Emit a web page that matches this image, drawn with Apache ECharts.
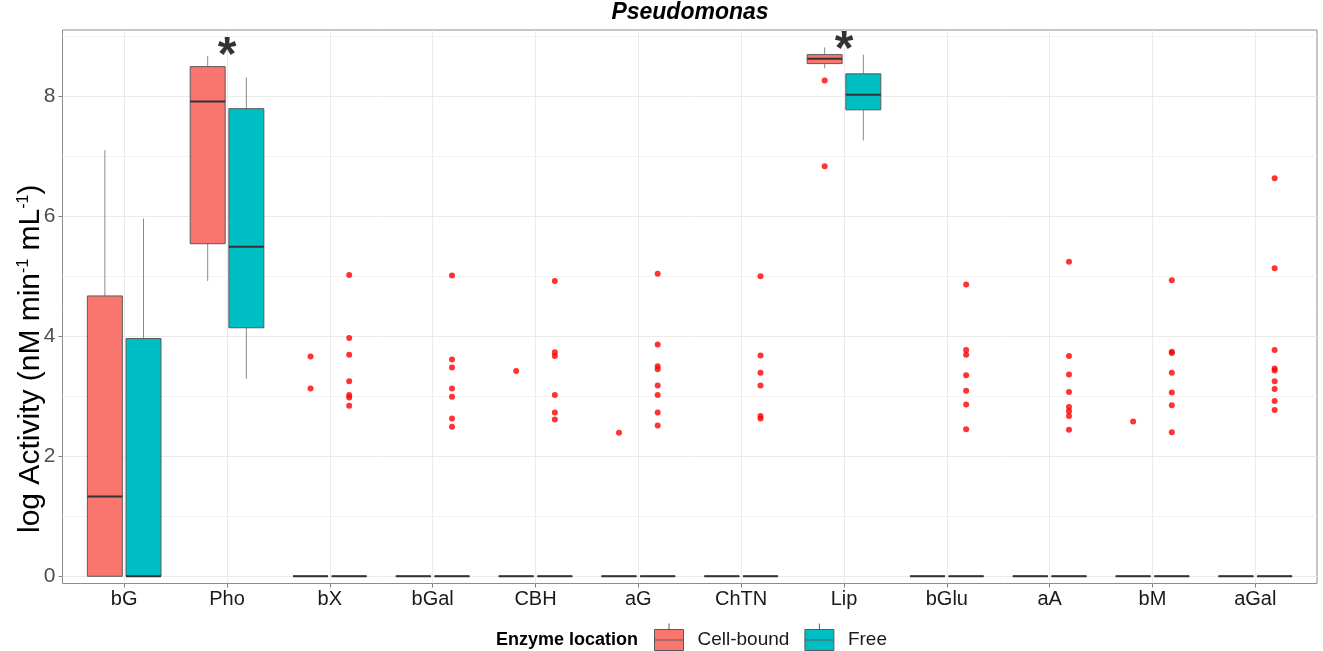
<!DOCTYPE html>
<html>
<head>
<meta charset="utf-8">
<script src="https://cdn.jsdelivr.net/npm/echarts@6/dist/echarts.min.js"></script>
<style>
  html, body { margin: 0; padding: 0; background: #fff; }
  #main { width: 1323px; height: 651px; }
</style>
</head>
<body>
<div id="main"></div>
<script>
const categories = ['bG', 'Pho', 'bX', 'bGal', 'CBH', 'aG', 'ChTN', 'Lip', 'bGlu', 'aA', 'bM', 'aGal'];
const yTicks = [0, 2, 4, 6, 8];
const yMinorTicks = [1, 3, 5, 7, 9];

// [lower whisker, Q1, median, Q3, upper whisker]
const cellBoundStats = [
  [0, 0, 1.33, 4.67, 7.1],
  [4.92, 5.54, 7.91, 8.49, 8.67],
  [0, 0, 0, 0, 0],
  [0, 0, 0, 0, 0],
  [0, 0, 0, 0, 0],
  [0, 0, 0, 0, 0],
  [0, 0, 0, 0, 0],
  [8.46, 8.54, 8.62, 8.69, 8.81],
  [0, 0, 0, 0, 0],
  [0, 0, 0, 0, 0],
  [0, 0, 0, 0, 0],
  [0, 0, 0, 0, 0]
];
const freeStats = [
  [0, 0, 0, 3.96, 5.96],
  [3.29, 4.14, 5.49, 7.79, 8.31],
  [0, 0, 0, 0, 0],
  [0, 0, 0, 0, 0],
  [0, 0, 0, 0, 0],
  [0, 0, 0, 0, 0],
  [0, 0, 0, 0, 0],
  [7.26, 7.77, 8.02, 8.37, 8.69],
  [0, 0, 0, 0, 0],
  [0, 0, 0, 0, 0],
  [0, 0, 0, 0, 0],
  [0, 0, 0, 0, 0]
];

const cellBoundOutliers = [
  ['bX', 3.66], ['bX', 3.13],
  ['CBH', 3.42],
  ['aG', 2.39],
  ['Lip', 8.26], ['Lip', 6.83],
  ['bM', 2.58]
];
const freeOutliers = [
  ['bX', 5.02], ['bX', 3.97], ['bX', 3.69], ['bX', 3.25], ['bX', 3.02], ['bX', 2.98], ['bX', 2.84],
  ['bGal', 5.01], ['bGal', 3.61], ['bGal', 3.48], ['bGal', 3.13], ['bGal', 2.99], ['bGal', 2.63], ['bGal', 2.49],
  ['CBH', 4.92], ['CBH', 3.73], ['CBH', 3.67], ['CBH', 3.02], ['CBH', 2.73], ['CBH', 2.61],
  ['aG', 5.04], ['aG', 3.86], ['aG', 3.5], ['aG', 3.45], ['aG', 3.18], ['aG', 3.02], ['aG', 2.73], ['aG', 2.51],
  ['ChTN', 5.0], ['ChTN', 3.68], ['ChTN', 3.39], ['ChTN', 3.18], ['ChTN', 2.67], ['ChTN', 2.63],
  ['bGlu', 4.86], ['bGlu', 3.77], ['bGlu', 3.69], ['bGlu', 3.35], ['bGlu', 3.09], ['bGlu', 2.86], ['bGlu', 2.45],
  ['aA', 5.24], ['aA', 3.67], ['aA', 3.36], ['aA', 3.07], ['aA', 2.82], ['aA', 2.75], ['aA', 2.67], ['aA', 2.44],
  ['bM', 4.93], ['bM', 3.74], ['bM', 3.72], ['bM', 3.39], ['bM', 3.06], ['bM', 2.85], ['bM', 2.4],
  ['aGal', 6.63], ['aGal', 5.13], ['aGal', 3.77], ['aGal', 3.46], ['aGal', 3.43], ['aGal', 3.25], ['aGal', 3.12], ['aGal', 2.92], ['aGal', 2.77]
];

// significance asterisks
const significant = [['Pho', 8.82], ['Lip', 8.92]];

const FONT = '"Liberation Sans", Arial, sans-serif';
const RED = '#F8766D';
const TEAL = '#00BFC4';
const BOX_W = 0.34;
const DODGE = 0.188;

const chart = echarts.init(document.getElementById('main'), null, { renderer: 'canvas' });

function boxRenderer(offset, fill) {
  return function (params, api) {
    const x = api.value(0) + offset;
    const lo = api.coord([x, api.value(1)]);
    const q1 = api.coord([x, api.value(2)]);
    const md = api.coord([x, api.value(3)]);
    const q3 = api.coord([x, api.value(4)]);
    const hi = api.coord([x, api.value(5)]);
    const w = api.size([BOX_W, 0])[0];
    const left = lo[0] - w / 2;
    const whisker = { stroke: '#8a8a8a', lineWidth: 1 };
    return {
      type: 'group',
      children: [
        { type: 'line', shape: { x1: lo[0], y1: q1[1], x2: lo[0], y2: lo[1] }, style: whisker },
        { type: 'line', shape: { x1: lo[0], y1: q3[1], x2: lo[0], y2: hi[1] }, style: whisker },
        { type: 'rect', shape: { x: left, y: q3[1], width: w, height: q1[1] - q3[1] },
          style: { fill: fill, stroke: '#5a5a5a', lineWidth: 1 } },
        { type: 'line', shape: { x1: left, y1: md[1], x2: left + w, y2: md[1] },
          style: { stroke: '#333333', lineWidth: 2 } }
      ]
    };
  };
}

const idx = name => categories.indexOf(name);
const cellBoxData = cellBoundStats.map((s, i) => [i].concat(s));
const freeBoxData = freeStats.map((s, i) => [i].concat(s));
const cellPts = cellBoundOutliers.map(d => [idx(d[0]) - DODGE, d[1]]);
const freePts = freeOutliers.map(d => [idx(d[0]) + DODGE, d[1]]);
const sigPts = significant.map(d => [idx(d[0]), d[1]]);

const legendIcon = 'path://M0,6 L29,6 L29,27 L0,27 Z M0,16.5 L29,16.5 M14.5,0 L14.5,6 M14.5,27 L14.5,33';

const option = {
  animation: false,
  title: [
    {
      text: 'Pseudomonas',
      left: 690,
      top: 1,
      textAlign: 'center',
      padding: 0,
      textStyle: { fontFamily: FONT, fontSize: 23, fontWeight: 'bold', fontStyle: 'italic', color: '#000' }
    },
    {
      text: 'Enzyme location',
      left: 496,
      top: 631,
      padding: 0,
      textStyle: { fontFamily: FONT, fontSize: 18, fontWeight: 'bold', color: '#000' }
    }
  ],
  legend: {
    data: ['Cell-bound', 'Free'],
    left: 654,
    top: 623,
    padding: 0,
    itemWidth: 29,
    itemHeight: 33,
    itemGap: 15,
    icon: legendIcon,
    itemStyle: { borderColor: '#5a5a5a', borderWidth: 1 },
    textStyle: { fontFamily: FONT, fontSize: 19, color: '#1a1a1a', padding: [0, 0, 0, 9] }
  },
  grid: {
    left: 62.5,
    right: 6,
    top: 30,
    bottom: 67.5,
    show: true,
    borderColor: '#8c8c8c',
    borderWidth: 1,
    containLabel: false,
    outerBoundsMode: 'none'
  },
  xAxis: {
    type: 'value',
    min: -0.6,
    max: 11.6,
    axisLine: { show: false, onZero: false },
    axisTick: { show: true, length: 4, customValues: categories.map((c, i) => i), lineStyle: { color: '#7f7f7f' } },
    axisLabel: {
      customValues: categories.map((c, i) => i),
      formatter: v => categories[Math.round(v)],
      fontFamily: FONT, fontSize: 20, color: '#1a1a1a', margin: 6
    },
    splitLine: { show: true, lineStyle: { color: '#ebebeb', width: 1 } }
  },
  yAxis: {
    type: 'value',
    min: -0.12,
    max: 9.1,
    name: '{t|log Activity (nM min}{s|-1}{t| mL}{s|-1}{t|)}',
    nameLocation: 'middle',
    nameRotate: 90,
    nameGap: 17,
    nameMoveOverlap: false,
    nameTextStyle: {
      padding: [0, 104, 0, 0],
      rich: {
        t: { fontFamily: FONT, fontSize: 30, color: '#000' },
        s: { fontFamily: FONT, fontSize: 16, color: '#000', verticalAlign: 'top' }
      }
    },
    axisLine: { show: false, onZero: false },
    axisTick: { show: true, length: 4, customValues: yTicks, lineStyle: { color: '#7f7f7f' } },
    axisLabel: {
      customValues: yTicks,
      fontFamily: FONT, fontSize: 21, color: '#4d4d4d', margin: 7
    },
    splitLine: { show: true, lineStyle: { color: '#ebebeb', width: 1 } }
  },
  series: [
    {
      name: 'minor',
      type: 'line',
      data: [],
      silent: true,
      z: 0,
      markLine: {
        silent: true,
        z: 0,
        symbol: ['none', 'none'],
        label: { show: false },
        lineStyle: { color: '#f3f3f3', width: 1, type: 'solid' },
        data: yMinorTicks.map(v => ({ yAxis: v }))
      }
    },
    {
      name: 'Cell-bound',
      type: 'custom',
      itemStyle: { color: RED },
      encode: { x: 0, y: [1, 2, 3, 4, 5] },
      renderItem: boxRenderer(-DODGE, RED),
      data: cellBoxData,
      z: 3
    },
    {
      name: 'Free',
      type: 'custom',
      itemStyle: { color: TEAL },
      encode: { x: 0, y: [1, 2, 3, 4, 5] },
      renderItem: boxRenderer(DODGE, TEAL),
      data: freeBoxData,
      z: 3
    },
    {
      name: 'cell outliers',
      type: 'scatter',
      symbolSize: 6,
      itemStyle: { color: '#ff0000' },
      data: cellPts,
      z: 4
    },
    {
      name: 'free outliers',
      type: 'scatter',
      symbolSize: 6,
      itemStyle: { color: '#ff0000' },
      data: freePts,
      z: 4
    },
    {
      name: 'significance',
      type: 'scatter',
      symbolSize: 0,
      data: sigPts,
      z: 5,
      label: {
        show: true,
        position: 'inside',
        formatter: '*',
        offset: [0, 10],
        fontFamily: FONT,
        fontSize: 48,
        fontWeight: 'bold',
        color: '#000'
      }
    }
  ]
};

chart.setOption(option);
</script>
</body>
</html>
